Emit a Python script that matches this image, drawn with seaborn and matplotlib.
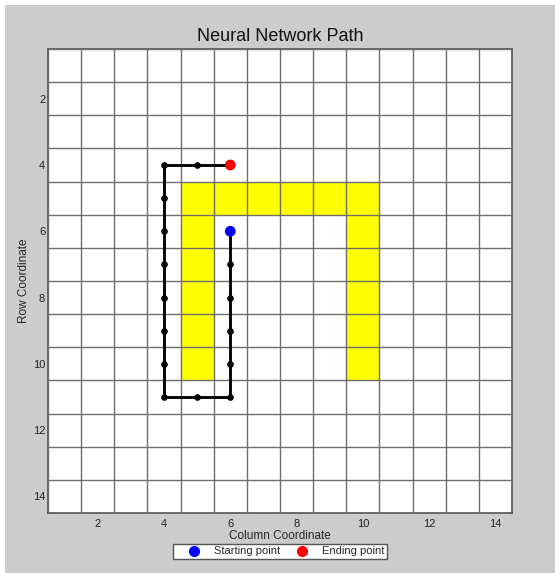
import numpy as np
import pandas as pd
import seaborn as sns
import matplotlib
matplotlib.use("Agg")
import matplotlib.pyplot as plt
from matplotlib.patches import Rectangle
from matplotlib.lines import Line2D

# Data
yellow_cols = [5, 6, 7, 8, 9, 10, 5, 5, 5, 5, 5, 10, 10, 10, 10, 10]
yellow_rows = [5, 5, 5, 5, 5, 5, 6, 7, 8, 9, 10, 6, 7, 8, 9, 10]
path_cols = [6, 6, 6, 6, 6, 6, 5, 4, 4, 4, 4, 4, 4, 4, 4, 5, 6]
path_rows = [6, 7, 8, 9, 10, 11, 11, 11, 10, 9, 8, 7, 6, 5, 4, 4, 4]
ticks = [2, 4, 6, 8, 10, 12, 14]
grid_n = 14

sns.set_style("white")
plt.rcParams['font.family'] = ['Liberation Sans', 'DejaVu Sans']

fig = plt.figure(figsize=(5.55, 5.73), dpi=100, facecolor="white")
fig.patches.append(Rectangle((5/555, 0), 1, 1 - 5/573, transform=fig.transFigure,
                             facecolor="#cccccc", edgecolor="none", zorder=-10))
ax = fig.add_axes([48/555, 60/573, 464/555, 464/573])
ax.set_facecolor("white")

# Yellow cells
grid = np.full((grid_n, grid_n), np.nan)
for c, r in zip(yellow_cols, yellow_rows):
    grid[r - 1, c - 1] = 1
edges = np.arange(0.5, grid_n + 1, 1)
ax.pcolormesh(edges, edges, np.ma.masked_invalid(grid),
              cmap=matplotlib.colors.ListedColormap(["#ffff00"]), zorder=1)

# Grid lines at cell boundaries
ax.set_xticks(edges, minor=True)
ax.set_yticks(edges, minor=True)
ax.grid(which="minor", color="#6e6e6e", linewidth=1.0, zorder=2)
ax.grid(which="major", visible=False)
ax.set_axisbelow(False)

df = pd.DataFrame({"col": path_cols, "row": path_rows, "step": range(len(path_cols))})
sns.lineplot(data=df, x="col", y="row", sort=False, estimator=None,
             color="black", linewidth=1.8, marker="o", markersize=4,
             markeredgecolor="black", ax=ax, zorder=5)
ax.plot(df["col"], df["row"], color="black", linewidth=1.8, zorder=5)
sns.scatterplot(x=[path_cols[0]], y=[path_rows[0]], color="#0000ff", s=60,
                edgecolor="none", ax=ax, zorder=6)
sns.scatterplot(x=[path_cols[-1]], y=[path_rows[-1]], color="#ff0000", s=60,
                edgecolor="none", ax=ax, zorder=6)

ax.set_xlim(0.5, grid_n + 0.5)
ax.set_ylim(grid_n + 0.5, 0.5)
ax.set_xticks(ticks)
ax.set_yticks(ticks)
ax.set_xticklabels([str(t) for t in ticks], fontsize=8)
ax.set_yticklabels([str(t) for t in ticks], fontsize=8)
ax.tick_params(which="both", length=0, colors="#222222")
ax.tick_params(axis="x", pad=4)
ax.tick_params(axis="y", pad=2)
for s in ax.spines.values():
    s.set_color("#555555")
    s.set_linewidth(1.2)

ax.set_title("Neural Network Path", fontsize=13, pad=6, color="#111111")
ax.set_xlabel("Column Coordinate", fontsize=8.5, labelpad=1)
ax.set_ylabel("Row Coordinate", fontsize=8.5, labelpad=2)

handles = [Line2D([], [], marker="o", linestyle="none", color="#0000ff", markersize=7),
           Line2D([], [], marker="o", linestyle="none", color="#ff0000", markersize=7)]
leg = fig.legend(handles, ["Starting point", "Ending point"], ncol=2,
                 loc="center", bbox_to_anchor=(280/555, 1 - 551.5/573),
                 fontsize=8, frameon=True, fancybox=False, framealpha=1,
                 borderpad=0.25, handletextpad=0.1, columnspacing=0.4,
                 handlelength=3.3, borderaxespad=0)
leg.get_frame().set_edgecolor("#555555")
leg.get_frame().set_linewidth(1.0)

fig.savefig("out.png", dpi=100, facecolor=fig.get_facecolor())
